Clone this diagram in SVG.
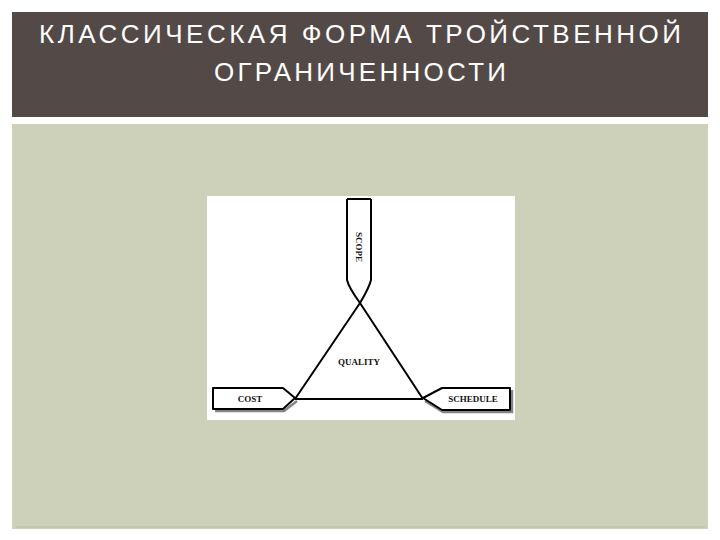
<svg xmlns="http://www.w3.org/2000/svg" width="720" height="540" viewBox="0 0 720 540">
<style>
.title{font-family:"Liberation Sans","DejaVu Sans",sans-serif;font-size:26px;fill:#ffffff}
.lbl{font-family:"Liberation Serif","DejaVu Serif",serif;font-weight:bold;font-size:9px;fill:#111111}
.shape{fill:#ffffff;stroke:#000000;stroke-width:2;stroke-linejoin:round}
.shadow{fill:none;stroke:#333333;stroke-width:2.5;opacity:0.6}
.line{fill:none;stroke:#000000;stroke-width:2;stroke-linejoin:round}
</style>
<rect width="720" height="540" fill="#ffffff"/>
<g id="header">
<rect x="12" y="12" width="696" height="105" fill="#534a48"/>
<text class="title" x="360" y="43" text-anchor="middle" textLength="642" lengthAdjust="spacing">КЛАССИЧЕСКАЯ ФОРМА ТРОЙСТВЕННОЙ</text>
<text class="title" x="360" y="81" text-anchor="middle" textLength="292" lengthAdjust="spacing">ОГРАНИЧЕННОСТИ</text>
</g>
<g id="panel">
<rect x="12" y="124" width="696" height="405" fill="#ced1b9"/>
<line x1="16" y1="527" x2="705" y2="527" stroke="#b9bcab" stroke-width="1"/>
</g>
<g id="picture">
<rect x="207" y="196" width="308" height="224" fill="#ffffff"/>
</g>
<g id="connectors">
<path class="line" d="M295,399 L423,399"/>
</g>
<g id="scope">
<path class="line" d="M347,199 L371,199"/>
<path class="line" d="M347,199 L347,280 Q349,288 360,303 L423,399"/>
<path class="line" d="M371,199 L371,280 Q369,288 360,303 L295,399"/>
<text class="lbl" transform="translate(356,247) rotate(90)" text-anchor="middle">SCOPE</text>
</g>
<g id="cost">
<path class="shadow" d="M215,411 L284,411 L297,401"/>
<path class="shape" d="M213,388 L283,388 L295,398 L283,409 L213,409 Z"/>
<text class="lbl" x="250" y="402" text-anchor="middle">COST</text>
</g>
<g id="schedule">
<path class="shadow" d="M425,401 L443,412 L512,412 L512,390"/>
<path class="shape" d="M510,388 L442,388 L423,398 L442,410 L510,410 Z"/>
<text class="lbl" x="473" y="402" text-anchor="middle">SCHEDULE</text>
</g>
<g id="quality">
<text class="lbl" x="359" y="365" text-anchor="middle">QUALITY</text>
</g>
</svg>
